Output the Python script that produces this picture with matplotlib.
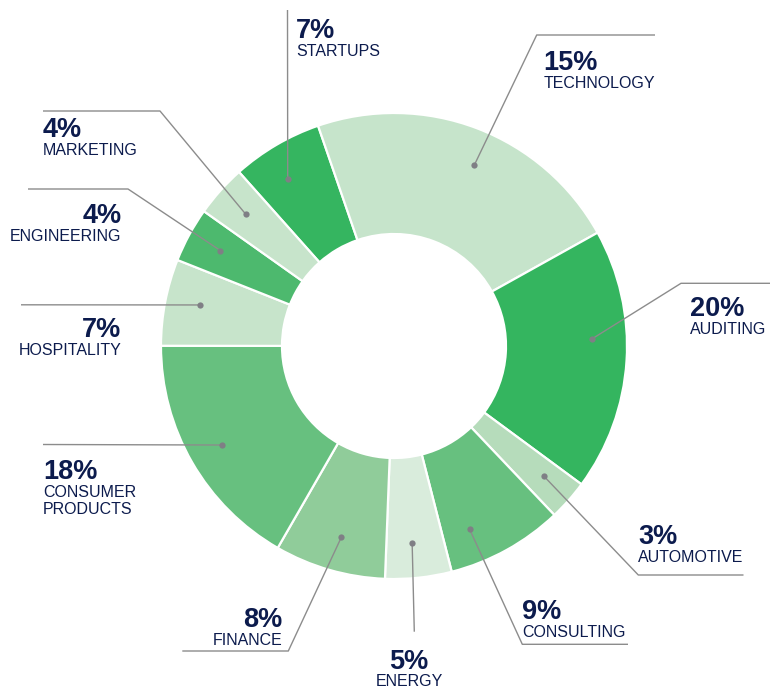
import numpy as np
import matplotlib
matplotlib.use("Agg")
import matplotlib.pyplot as plt

sectors = ["STARTUPS", "TECHNOLOGY", "AUDITING", "AUTOMOTIVE", "CONSULTING",
           "ENERGY", "FINANCE", "CONSUMER\nPRODUCTS", "HOSPITALITY",
           "ENGINEERING", "MARKETING"]
slice_values = [6.3, 22.2, 18.2, 2.8, 8.1, 4.6, 7.7, 16.7, 6.0, 3.8, 3.6]
pct_labels = ["7%", "15%", "20%", "3%", "9%", "5%", "8%", "18%", "7%", "4%", "4%"]

colors = ["#35b560", "#c6e4cb", "#34b55f", "#b6dcbb", "#67c07f",
          "#d9ecdc", "#90cc9a", "#67c07f", "#c7e4cb", "#4db96e", "#c7e4cb"]

W, H = 770, 689
fig = plt.figure(figsize=(W / 100, H / 100), dpi=100)
ax = fig.add_axes([0, 0, 1, 1])

def Y(y):  # pixel-from-top -> data y
    return H - y

cx, cy = 394, Y(346)
R, r_in = 233, 112
start = 131.7

wedges, _ = ax.pie(slice_values, colors=colors, startangle=start, counterclock=False,
                   radius=R, center=(cx, cy),
                   wedgeprops=dict(width=R - r_in, edgecolor="white", linewidth=1.6))

ax.set_xlim(0, W)
ax.set_ylim(0, H)
ax.set_aspect("equal")
ax.axis("off")

# ---- layout for leader lines and text (pixel coords from top-left) ----
layout = {
    "STARTUPS":    dict(nudge=2.1, path=[(287.5, 10)], tx=296, ha="left", pb=38.5, lb=56.5),
    "TECHNOLOGY":  dict(nudge=-3.0, path=[(536.7, 35), (655, 35)], tx=543.5, ha="left", pb=69.5, lb=87.5),
    "AUDITING":    dict(nudge=5.7, path=[(681, 283.3), (770, 283.3)], tx=690, ha="left", pb=315.7, lb=334),
    "AUTOMOTIVE":  dict(nudge=0.5, path=[(638.3, 575), (743.5, 575)], tx=638, ha="left", pb=544, lb=562.3),
    "CONSULTING":  dict(nudge=-6.5, path=[(522.3, 644.3), (628, 644.3)], tx=522.3, ha="left", pb=619.3, lb=637.3),
    "ENERGY":      dict(nudge=-0.8, path=[(414.3, 631.7)], tx=409, ha="center", pb=669, lb=686.5),
    "FINANCE":     dict(nudge=0.7, path=[(288.3, 651), (182.3, 651)], tx=282.5, ha="right", pb=626.7, lb=645),
    "CONSUMER\nPRODUCTS": dict(nudge=0.0, path=[(43, 444.5)], tx=43, ha="left", pb=479, lb=496.7),
    "HOSPITALITY": dict(nudge=-1.1, path=[(21, 304.8)], tx=121.5, ha="right", pb=337.3, lb=355),
    "ENGINEERING": dict(nudge=-0.3, path=[(128, 189), (28, 189)], tx=121.5, ha="right", pb=222.7, lb=241),
    "MARKETING":   dict(nudge=0.2, path=[(160, 111), (43, 111)], tx=43, ha="left", pb=137.3, lb=155),
}

navy = "#0c1b4d"
line_c = "#8c8c8c"
font = ["Liberation Sans", "DejaVu Sans"]

for w, name, pct in zip(wedges, sectors, pct_labels):
    L = layout[name]
    mid = np.deg2rad((w.theta1 + w.theta2) / 2 + L["nudge"])
    dx = cx + 0.85 * R * np.cos(mid)
    dy = cy + 0.85 * R * np.sin(mid)
    xs = [dx] + [p[0] for p in L["path"]]
    ys = [dy] + [Y(p[1]) for p in L["path"]]
    ax.plot(xs, ys, color=line_c, lw=1.0, solid_capstyle="butt", zorder=3)
    ax.plot([dx], [dy], "o", ms=4.5, color="#7f7f85", mec="none", zorder=4)
    ax.text(L["tx"], Y(L["pb"]), pct, ha=L["ha"], va="baseline", fontsize=19.5,
            fontweight="bold", color=navy, family=font)
    lines = name.split("\n")
    for i, ln in enumerate(lines):
        ax.text(L["tx"], Y(L["lb"] + i * 17.6), ln, ha=L["ha"], va="baseline",
                fontsize=11.5, color=navy, family=font)

fig.savefig("out.png", dpi=100, facecolor="white")
